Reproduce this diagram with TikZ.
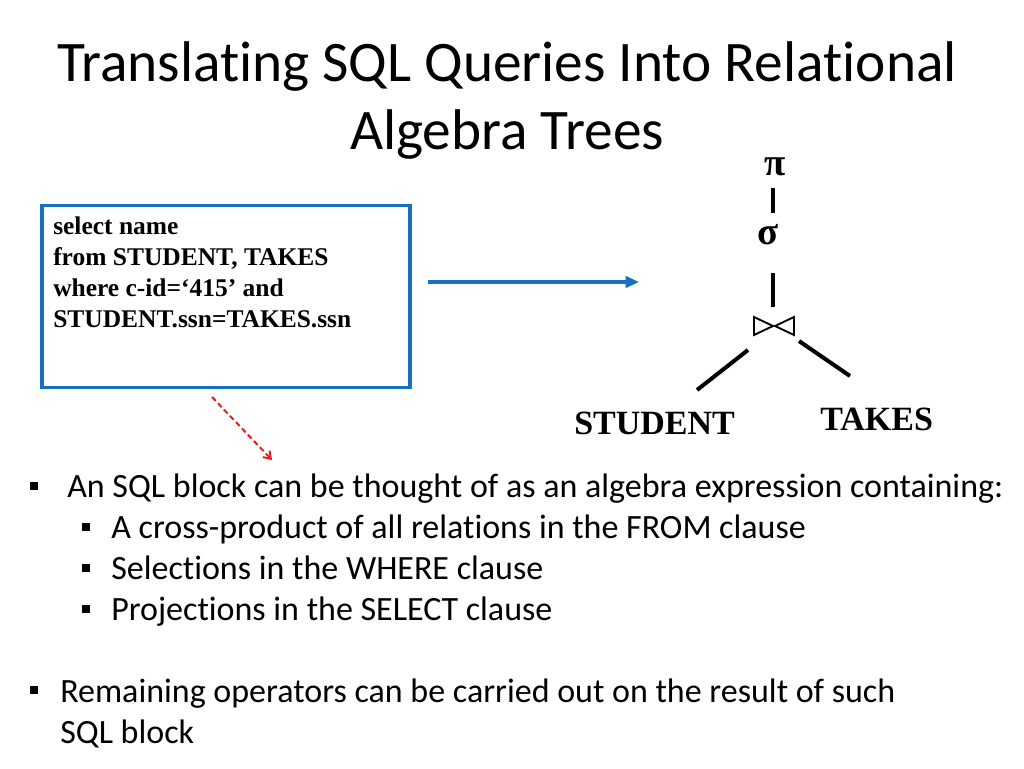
\documentclass[tikz,border=0pt]{standalone}
\usepackage{fontspec}
\setmainfont{Carlito}[Ligatures=NoCommon]
\newfontfamily\tnr{Liberation Serif}
\usetikzlibrary{arrows.meta}
\definecolor{sqlblue}{RGB}{22,112,192}
\definecolor{arrred}{RGB}{232,30,30}
\begin{document}
\begin{tikzpicture}[x=0.75pt,y=-0.75pt,
  txt/.style={inner sep=0pt,anchor=base west},
  titletxt/.style={inner sep=0pt,anchor=base,font=\fontsize{43}{51}\selectfont},
  bodytxt/.style={txt,font=\fontsize{25.5}{30}\selectfont},
  querytxt/.style={txt,font=\tnr\bfseries\fontsize{19.1}{23}\selectfont},
  reltxt/.style={txt,font=\tnr\bfseries\fontsize{25.5}{30}\selectfont},
  optxt/.style={inner sep=0pt,anchor=base,font=\tnr\bfseries\fontsize{29}{32}\selectfont},
  bul/.style={fill=black,minimum size=6pt,inner sep=0pt},
  subbul/.style={fill=black,minimum size=5.6pt,inner sep=0pt},
  treeedge/.style={line width=3pt},
  qbox/.style={draw=sqlblue,line width=2.4pt,minimum width=276pt,minimum height=137pt,inner sep=0pt}
]
\useasboundingbox (0,0) rectangle (1024,768);

% title
\node[titletxt] (title1) at (507,81) {Translating SQL Queries Into Relational};
\node[titletxt] (title2) at (507,149) {Algebra Trees};

% query box
\node[qbox] (query) at (226,296.5) {};
\node[querytxt] (q1) at (53,234) {select name};
\node[querytxt] (q2) at (53,265) {from STUDENT, TAKES};
\node[querytxt] (q3) at (53,296) {where c-id=‘415’ and};
\node[querytxt] (q4) at (53,327) {STUDENT.ssn=TAKES.ssn};

% blue arrow
\coordinate (a1) at (428,282);
\coordinate (a2) at (639,282);
\draw[sqlblue,line width=2.3pt,-{Triangle[length=10pt,width=8.5pt]}] (a1) -- (a2);

% red dashed arrow
\coordinate (r1) at (212,397);
\coordinate (r2) at (272,460);
\draw[arrred,line width=1.5pt,dash pattern=on 4pt off 2.5pt,-{Straight Barb[length=5pt,width=7pt]}] (r1) -- (r2);

% tree
\node[optxt] (pi) at (775,175) {π};
\node[optxt] (sigma) at (768,244) {σ};
\coordinate (join) at (774,326);
\coordinate (e1a) at (773,188);
\coordinate (e1b) at (773,213);
\coordinate (e2a) at (773,273);
\coordinate (e2b) at (773,307);
\draw[treeedge] (e1a) -- (e1b);
\draw[treeedge] (e2a) -- (e2b);
\draw[line width=1.4pt,line join=miter] ([xshift=-20*0.75pt,yshift=-9*0.75pt]join) -- ([xshift=-20*0.75pt,yshift=9*0.75pt]join) -- ([xshift=-1*0.75pt]join) -- cycle;
\draw[line width=1.4pt,line join=miter] ([xshift=20*0.75pt,yshift=-9*0.75pt]join) -- ([xshift=20*0.75pt,yshift=9*0.75pt]join) -- ([xshift=1*0.75pt]join) -- cycle;
\node[reltxt] (student) at (574,434) {STUDENT};
\node[reltxt] (takes) at (820,430) {TAKES};
\coordinate (l1) at (748,350);
\coordinate (l2) at (697,390);
\coordinate (r3) at (799,341);
\coordinate (r4) at (850,376);
\draw[treeedge] (l1) -- (l2);
\draw[treeedge] (r3) -- (r4);

% bullets
\node[bul] (b1) at (34,486) {};
\node[bodytxt] (t1) at (67,497) {An SQL block can be thought of as an algebra expression containing:};
\node[subbul] (b2) at (86,527) {};
\node[bodytxt] (t2) at (111,538) {A cross-product of all relations in the FROM clause};
\node[subbul] (b3) at (86,568) {};
\node[bodytxt] (t3) at (111,579) {Selections in the WHERE clause};
\node[subbul] (b4) at (86,609) {};
\node[bodytxt] (t4) at (111,620) {Projections in the SELECT clause};
\node[bul] (b5) at (34,690) {};
\node[bodytxt] (t5) at (60,702) {Remaining operators can be carried out on the result of such};
\node[bodytxt] (t6) at (60,743) {SQL block};
\end{tikzpicture}
\end{document}
